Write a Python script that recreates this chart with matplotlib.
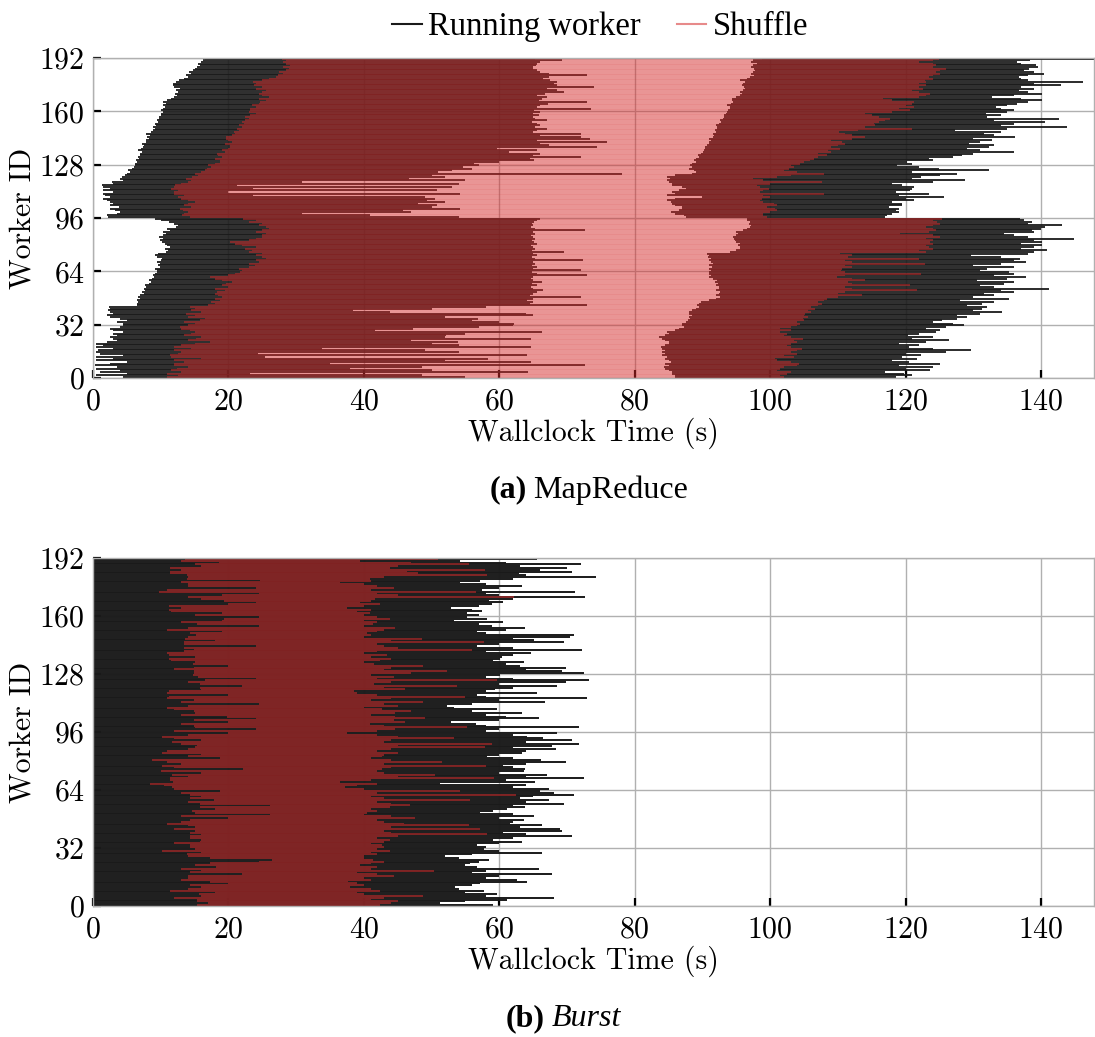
import numpy as np
import matplotlib
matplotlib.use('Agg')
import matplotlib.pyplot as plt
from matplotlib.lines import Line2D

plt.rcParams['font.family'] = 'cmr10'
plt.rcParams['axes.formatter.use_mathtext'] = True
plt.rcParams['mathtext.fontset'] = 'cm'

X_TICKS = [0, 20, 40, 60, 80, 100, 120, 140]
Y_TICKS = [0, 32, 64, 96, 128, 160, 192]

RUN_COLOR = '#1a1a1a'
SHUFFLE_COLOR = '#d42a2a'
SHUFFLE_ALPHA = 0.55

# ---- MapReduce: per worker (id 0..191), seconds ----
mr_map_start = [
    4.5, 0.5, 5, 1, 4, 0.5, 3.5, 0.3, 2.5, 5, 0.5, 3, 0.5, 4.5, 1, 0.5,
    0.7, 3, 0.5, 1.5, 0.5, 2, 3.5, 3, 2.5, 3.5, 3, 4.5, 3, 2.5, 4, 4.5,
    4.5, 3.5, 5, 4, 2.5, 2, 3, 2.5, 2.2, 2.5, 2.3, 6.5, 6.5, 6.7, 6.5, 7,
    6.7, 7, 7.5, 7.2, 7.7, 7.5, 7.9, 7.7, 8.2, 8.5, 8.2, 8.7, 9, 8.8, 9.2, 9.4,
    9.4, 9.2, 9.9, 9.6, 9.9, 9.5, 10, 10.2, 9.4, 9.1, 9.6, 10.8, 11.1, 10.7, 11.3, 11,
    10.6, 10.2, 9.9, 10.3, 9.7, 10.4, 10.8, 10.4, 11.4, 11, 12.2, 12.6, 12, 11.2, 10, 9.2,
    2.2, 2.0, 3.5, 4, 3.3, 2.5, 3.8, 2.5, 3, 2.5, 2, 1.5, 2.5, 1.8, 1.5, 3,
    1.5, 2.5, 1.5, 1.4, 3, 2.8, 4.5, 4, 4.3, 4.8, 5, 5.5, 5.2, 5.8, 6, 6.2,
    6.2, 6.5, 6.3, 6.8, 6.6, 7, 6.9, 7.2, 6.7, 7.1, 7.4, 7.6, 7.3, 7.8, 7.9, 8.2,
    8, 8.4, 7.9, 8.6, 8.8, 9.1, 8.9, 9.3, 9.2, 9.6, 9.5, 9.8, 9.7, 10, 10.1, 10.3,
    10.1, 10.4, 10.6, 10.3, 10.8, 10.3, 11, 11.5, 12, 12.4, 12.1, 12.6, 12.2, 12.9, 12, 11.8,
    11.8, 12.3, 12.7, 13.5, 14, 13.8, 14.5, 14.2, 14.8, 15.1, 15.3, 15.8, 15.5, 16, 16.3, 16.5,
]
mr_map_end = [
    55, 48.6, 23.2, 64.3, 50, 37.9, 48.6, 72.6, 35.0, 64.7, 52, 58.3, 25.4, 64.1, 24.4, 54.1,
    49, 33.8, 64.6, 54.1, 50, 53.9, 47, 64.6, 52, 52.1, 55, 66.3, 41.7, 47.3, 57, 62,
    62.1, 60, 56, 56.8, 52, 65, 64, 43.9, 38.4, 50, 58, 72.9, 64.5, 65, 64.1, 65,
    72.1, 64.5, 65, 65.5, 66.5, 65, 64.6, 65.5, 64.8, 66.3, 65, 64.6, 65, 72.9, 65.5, 64.8,
    72.1, 65, 65.5, 64.8, 65.3, 65, 72.4, 65.2, 64.8, 65.5, 65, 69.6, 64.8, 65.3, 65, 64.7,
    65.5, 65.1, 64.8, 65.2, 65, 64.7, 65.3, 65, 72.6, 65.2, 64.6, 65, 64.8, 65.1, 65.5, 66,
    54, 40.9, 30.9, 47, 45.8, 54.2, 50, 50.8, 48, 52, 49.3, 50.5, 49, 23.6, 54.2, 20,
    50.8, 23.7, 53, 21.2, 54, 30.9, 55, 46.6, 52, 50, 78.1, 51, 53, 56, 54.7, 57,
    56.2, 60, 65.1, 64.5, 72, 65, 66, 61.4, 65.5, 59.6, 74.4, 67.3, 66, 75.9, 65.5, 73.4,
    72, 66, 72, 65, 65.5, 67, 65.2, 66, 65.5, 64.8, 67, 65.2, 65, 65.8, 64.9, 66,
    65.1, 73.5, 65.5, 66, 67.2, 73, 65.8, 66.3, 67, 65.5, 66.8, 69.5, 68.5, 67, 74, 68.5,
    68, 68.5, 67.5, 66.5, 67.3, 73, 67.3, 66, 65.5, 65, 64.9, 65.4, 65.5, 66, 69.2, 65.2,
]
mr_reduce_start = [
    86, 86, 85.5, 85.5, 85, 84.5, 84.3, 85, 84.5, 85.3, 85, 84.5, 84.8, 84, 84.5, 84,
    84.5, 84, 83.8, 84.5, 85, 85, 84.5, 84, 83.5, 84.5, 85, 84.8, 86, 86.5, 87.2, 87,
    87, 87.5, 87.8, 88.2, 88, 88.5, 88, 88, 88.5, 89, 89.5, 89.2, 89.5, 89.7, 91, 92,
    92.6, 92, 92.4, 92.6, 92, 92.4, 92.4, 92, 92.3, 91.8, 92.2, 91.5, 91, 91.3, 90.9, 91,
    91.2, 91, 91.4, 91, 91.5, 91.2, 91, 91.2, 90.8, 91, 90.7, 94, 95, 95.6, 95.5, 95.2,
    95.5, 95, 94.8, 94.6, 94.5, 95, 95.2, 94.9, 96, 96.5, 97, 97.1, 96.8, 97, 96.5, 96.6,
    87.5, 87.2, 86, 85.3, 86.5, 87, 87, 86, 85.5, 85.3, 84.8, 86, 89.9, 84.8, 86, 85.5,
    86.5, 87.5, 87, 85.5, 85.5, 85, 84.7, 85.2, 84.8, 86, 88.5, 89, 88.7, 88, 88.5, 88.2,
    88.5, 89, 88.7, 89, 89.5, 89.4, 89.8, 90, 90.2, 90.4, 90.3, 90.6, 91, 90.9, 91.2, 91,
    91.5, 91.7, 91.5, 92, 91.8, 92.2, 92.2, 92, 92.5, 92.8, 92.6, 93, 93.2, 93.1, 93.4, 93.6,
    93.8, 94, 94.1, 93.6, 94.2, 94.5, 94.3, 94.4, 95, 95.5, 95.9, 95.5, 96, 96.2, 96.1, 95.8,
    96, 96.2, 95.6, 96.5, 97, 97.6, 97.2, 97.5, 97.8, 97.6, 97.2, 97.5, 98, 97.1, 97.5, 98.8,
]
mr_reduce_end = [
    118.5, 121, 119.7, 117, 123.6, 120, 124.1, 119, 125.1, 120.5, 118, 121.7, 119.5, 122.2, 120, 126,
    129.6, 124, 120.5, 122, 119, 123, 126.4, 121, 124, 120.4, 122, 124.5, 125.1, 123, 126, 128.6,
    127, 124, 125.4, 127.5, 129, 127.6, 131, 134.2, 130, 131.3, 132, 129, 131.3, 133, 128, 135.2,
    130, 133, 131.5, 136, 134, 141.1, 133, 131, 134.5, 136, 130.5, 135, 137.7, 133, 136, 135.2,
    131, 132, 136, 130, 134, 137.7, 136, 136.9, 134, 129.6, 138, 139, 140.9, 137, 139, 140.1,
    137, 140.1, 139, 144.8, 138, 136, 134.5, 139, 138.7, 139.9, 140.5, 143.1, 138, 138.7, 137.5, 136.9,
    117, 117.2, 118, 119, 118.5, 119, 117.5, 119.5, 119.5, 118, 121.2, 120, 125.6, 119, 123.4, 118.5,
    120.7, 121, 121.2, 119.5, 118, 124, 128.8, 121, 122.2, 125, 127.6, 121, 132.3, 124.9, 122, 118.7,
    121, 120.2, 124, 123.4, 127, 128.3, 130, 136, 131, 129, 132.3, 133, 129.3, 131, 132.8, 130,
    136.2, 133, 131.5, 134, 127.3, 135, 143.8, 134, 136, 140.6, 133, 142.6, 132, 134, 131.8, 135,
    136, 134, 133.3, 135, 136.5, 138, 140.1, 137, 132.8, 136, 140.1, 138, 136.7, 139, 137, 142.9,
    139, 146.1, 138, 137, 136.7, 138, 140.4, 139, 137.5, 138.2, 139.5, 139.2, 137, 136.5, 138.4, 148,
]
mr_shuffle_start = [
    11, 12.5, 11, 13, 11.5, 12.4, 14, 12, 11.9, 13.5, 12, 16, 11.5, 11.3, 12.5, 13,
    12, 14.5, 11.9, 13, 15, 17.3, 14, 15.2, 16, 13.5, 14.5, 15, 14.3, 13, 12.8, 14,
    15, 13.5, 15.8, 16.5, 14, 15, 13.8, 16, 14.5, 15, 14.3, 17, 18, 17.5, 18.8, 18,
    19, 18.5, 18, 18.3, 19.5, 18, 20, 19, 19.7, 20.5, 19, 18, 17.3, 20, 21, 21.7,
    22, 21.5, 23, 23.9, 23, 24.5, 24, 25.6, 25, 24, 25, 23, 23.5, 22.5, 24, 22,
    21, 20.2, 23, 24, 25, 24.9, 25.5, 24, 25, 26, 25.6, 24.5, 25, 23, 24, 22.2,
    14.3, 13.1, 13.5, 14, 13.3, 12.8, 14.5, 13.5, 14, 15, 14, 13, 12.5, 13.5, 12, 11.9,
    12.5, 11.5, 12, 12.1, 13, 14, 14.5, 13.8, 14.6, 15.5, 15, 16, 16.5, 16.8, 17.5, 17,
    18, 18.8, 18.8, 18, 19, 18.5, 18.3, 19.5, 19, 20, 20.2, 20.2, 19.5, 20.5, 20, 19.7,
    19.7, 20.5, 21, 20.8, 21.5, 21.2, 22, 21.5, 22.3, 22, 22.5, 23, 22.5, 23.2, 24, 23,
    23.2, 23.2, 24, 23.5, 24.5, 24.7, 25.5, 24.5, 26, 25, 24.5, 24.9, 25.5, 24, 25, 23.8,
    24, 23.7, 25, 26, 27, 27.3, 28, 27.5, 28.5, 29, 28, 29.1, 28.5, 28, 28.5, 27.9,
]
mr_shuffle_end = [
    102, 101.5, 102.5, 103, 101, 101.5, 102, 104, 104.2, 103, 101, 100.7, 103.5, 102, 104, 103,
    104, 104.7, 103, 102.5, 103, 104, 103.5, 104.9, 103, 102, 102.5, 101.5, 103, 101.5, 103, 104,
    104.4, 104, 105, 104.9, 105.5, 105, 105.2, 106, 105.5, 106.6, 106, 107, 107.6, 107, 108, 108.4,
    110, 113.5, 110, 111, 121.7, 112, 111, 120.7, 112, 111.5, 114, 112, 109.9, 111, 122.2, 111,
    110.5, 110.6, 112, 111, 122.9, 112, 111, 121.9, 111.5, 112, 110.3, 123, 122, 124.1, 123.5, 123,
    124, 123.6, 124, 123, 125.1, 124, 119.2, 123.5, 124.5, 124.1, 123, 124, 125, 124.6, 124, 125.4,
    99.5, 99, 99, 100, 101, 100.7, 99.5, 101, 100.5, 99, 98.5, 98.8, 100, 99, 108, 98.5,
    99, 99.8, 98.5, 98, 100, 107.6, 99, 97.5, 101, 103, 108, 104, 102, 102.7, 103.5, 103,
    104.4, 105, 105.9, 106.5, 107, 108.4, 107, 109, 108.5, 110.3, 109, 110, 111, 110.6, 109, 112,
    114, 112, 111, 110.1, 113, 120.9, 114, 115.5, 115.3, 116, 117, 117.7, 116, 115, 114, 118,
    120.7, 119, 121.2, 120, 121, 121.2, 118, 116.7, 122, 123, 123.6, 122, 121, 122.5, 121.9, 123,
    122, 123, 122.9, 124, 123.5, 124.1, 125, 124.5, 125, 125.9, 124, 124.5, 124.1, 121.9, 124, 124.9,
]

# ---- Burst: every worker starts at t=0 ----
burst_run_end = [
    59, 51.3, 55, 61.1, 68, 58, 59.7, 55, 57.7, 54, 53.5, 56, 57.2, 64.1, 62.6, 58,
    60, 67.8, 56, 58, 65.8, 56.7, 55, 55.7, 57, 58.4, 54, 52, 56, 66.3, 60, 57.7,
    58, 56.7, 60, 63.3, 59, 62, 70.7, 64, 60.6, 69.3, 69, 63, 66.3, 61.6, 62, 63.6,
    60, 65.1, 62, 57.2, 59, 61.1, 63.8, 62, 69.5, 64, 67.3, 63, 65, 71, 68, 66,
    67.3, 62, 64, 51.3, 65.3, 61, 72.5, 64, 67, 60, 63.6, 63.8, 62, 60.6, 64, 69.8,
    66.1, 62, 58.2, 60, 63.3, 64, 68.3, 62, 67.8, 71.7, 64, 70.7, 66.5, 64.1, 62, 68.5,
    58, 60, 71.7, 58, 56.5, 52.8, 60, 65.8, 61, 58, 63.3, 56, 59.7, 53.3, 52.3, 56,
    66.8, 60, 73, 58, 56.7, 65.6, 58, 59.4, 62, 68.5, 60, 69.8, 73.2, 62, 58, 60.1,
    72.5, 69.3, 64, 69.8, 63.1, 61, 63.6, 59, 60.1, 60.4, 62, 64.6, 58, 72.2, 62, 56.7,
    60, 69.5, 65.1, 62, 70.5, 71, 58, 56.7, 61, 63.8, 58.9, 57, 60.6, 53.3, 58.2, 55.2,
    57, 55.2, 57.4, 56, 52.8, 57, 58.9, 60.6, 58.4, 62, 72.7, 60, 58, 71.2, 57.4, 60,
    63.3, 58, 54.2, 57.2, 62, 74.2, 64, 62.9, 70.7, 66, 70, 63, 72, 61, 54.2, 65.6,
]
burst_shuffle_start = [
    15.3, 17, 15.3, 15.3, 12, 16, 15.6, 18, 11.4, 14, 16, 14.4, 20, 17.3, 13, 14.1,
    14.1, 22, 14.4, 16, 13, 18.1, 15, 17.3, 24.5, 26.4, 17.3, 14, 13.9, 16, 10.2, 15,
    14.4, 14.4, 12, 15.8, 16, 14.4, 14.4, 16, 14.4, 15, 12, 15.1, 14, 10.9, 13, 14.4,
    20, 13, 26.2, 15, 14.6, 18, 15.8, 26.2, 15.8, 14, 17.8, 14.4, 16, 14.4, 13, 18.8,
    12, 11.6, 10.5, 8.4, 11.8, 11.4, 11.4, 14, 11.6, 16, 10, 22.2, 12, 10.2, 13, 11,
    8.7, 18.8, 14, 16, 10.2, 11, 14, 15, 15.3, 13, 11.6, 16, 12, 10.2, 14, 20,
    12, 24, 15, 14.9, 13, 20, 14.9, 24, 19.8, 13, 15, 14.9, 12, 10.9, 14, 24.5,
    13, 14.9, 11, 11.2, 20, 11, 11.2, 16, 15.8, 22, 15.8, 14, 16.5, 24, 15.5, 14.8,
    14.9, 14.9, 12, 14.9, 20, 14.8, 15.1, 11.5, 11.2, 15, 11.2, 10.9, 13.5, 14.9, 13.4, 24,
    13.4, 13.4, 18, 13.6, 14, 15.2, 14.4, 19, 10.9, 14, 24.5, 15.3, 13, 19, 19.3, 24.5,
    15, 19, 11.5, 11.2, 13, 11.2, 20, 24, 19.3, 16, 14, 19, 24.5, 9.7, 11, 24,
    14.1, 14.1, 13, 24.7, 13.9, 14, 13.9, 11.4, 11.4, 13, 11.4, 16, 15.1, 18.6, 13, 13.6,
]
burst_shuffle_end = [
    42.4, 44, 45.1, 41, 43, 48.8, 40, 39, 42.4, 41, 38, 40, 39, 37.7, 41, 40,
    44.4, 42, 39, 50.3, 41, 42, 39.5, 41, 43, 41.4, 40, 40, 42, 41, 43.9, 42,
    43, 42.7, 41, 43, 43.9, 42, 45, 58.2, 44, 43, 57.2, 44, 55.5, 45.9, 43, 42,
    47.6, 44, 40, 40.4, 42, 41, 43.9, 46.8, 44, 42, 55.7, 43, 41, 62.4, 42, 54.2,
    40, 37.2, 39, 42, 36.5, 41, 59.2, 45, 50.5, 43, 42, 42.7, 44, 58, 43, 51.5,
    44, 41, 42.7, 43, 45.1, 42, 44, 57.9, 45, 58.9, 43, 44, 53.3, 45, 42, 37.5,
    42, 44.6, 55.2, 43, 40.9, 46, 44.4, 49, 44.6, 41, 44.6, 47, 42.7, 40, 45, 43,
    48.8, 41, 44, 55, 42, 39, 38.5, 46, 43, 53.7, 41.5, 44, 59.7, 42, 44.4, 41,
    47, 52.3, 43, 44, 48.8, 41.5, 40, 42.4, 44, 41, 43.4, 40, 42, 56, 45, 43,
    42, 57.7, 44, 48.6, 40, 41, 40.4, 42, 43, 44.6, 40, 41.4, 42, 40, 43.9, 42,
    40, 40.9, 39, 41, 37.5, 40, 42.4, 39.5, 41, 41.7, 62.1, 45, 42, 56.5, 41, 44.4,
    42, 40, 36.5, 41, 40.9, 43, 58.2, 48, 46.4, 57.9, 43.9, 45, 55.5, 47, 39.5, 51,
]


def fade(alpha):
    # apply transparency to the whole layer at once, so neighbouring rows
    # don't darken each other where their edges overlap
    def _filter(img, dpi):
        out = img.copy()
        out[..., 3] *= alpha
        return out, 0, 0
    return _filter


def draw_workers(ax, runs, shuffle, lw):
    ids = np.arange(len(shuffle[0])) + 0.5
    # running periods first, shuffle on top (transparent) so overlaps turn dark red
    for start, end in runs:
        ax.hlines(ids, start, end, colors=RUN_COLOR, linewidth=lw)
    sh = ax.hlines(ids, shuffle[0], shuffle[1], colors=SHUFFLE_COLOR, linewidth=lw)
    sh.set_agg_filter(fade(SHUFFLE_ALPHA))


def style_axes(ax):
    ax.set_xlim(0, 147.8)
    ax.set_ylim(0, 192)
    ax.set_xticks(X_TICKS)
    ax.set_yticks(Y_TICKS)
    ax.set_axisbelow(True)
    ax.grid(True, color='#b0b0b0', linewidth=1.0)
    for sp in ax.spines.values():
        sp.set_color('#b0b0b0')
        sp.set_linewidth(1.0)
    ax.tick_params(direction='in', length=6, width=1.6, color='black', labelsize=21.5)
    ax.tick_params(axis='x', pad=7)
    ax.tick_params(axis='y', pad=6)
    ax.set_xlabel('Wallclock Time (s)', fontsize=21.5, labelpad=2)
    ax.set_ylabel('Worker ID', fontsize=21.5, labelpad=2)


fig = plt.figure(figsize=(10.95, 10.37), dpi=100)

# row pitch is ~1.67 px on top, ~1.81 px below: line width a bit over the pitch
ax1 = fig.add_axes([0.0849, 0.6355, 0.9142, 0.3086])
draw_workers(ax1,
             [(mr_map_start, mr_map_end), (mr_reduce_start, mr_reduce_end)],
             (mr_shuffle_start, mr_shuffle_end), lw=1.3)
style_axes(ax1)

ax2 = fig.add_axes([0.0849, 0.1263, 0.9142, 0.3356])
draw_workers(ax2,
             [(np.zeros(len(burst_run_end)), burst_run_end)],
             (burst_shuffle_start, burst_shuffle_end), lw=1.4)
style_axes(ax2)

handles = [Line2D([], [], color=RUN_COLOR, lw=1.5),
           Line2D([], [], color=SHUFFLE_COLOR, alpha=SHUFFLE_ALPHA, lw=1.5)]
fig.legend(handles, ['Running worker', 'Shuffle'], loc='center',
           bbox_to_anchor=(0.548, 1 - 27 / 1037), ncol=2, frameon=False,
           handlelength=0.9, handletextpad=0.2, columnspacing=1.1,
           prop={'family': 'Liberation Serif', 'size': 23.5})

cap = {'family': 'Liberation Serif', 'size': 23}
fig.text(0.4813, 0.5275, '(a)', ha='right', va='center', fontweight='bold', **cap)
fig.text(0.4868, 0.5275, 'MapReduce', ha='left', va='center', **cap)
fig.text(0.4977, 0.018, '(b)', ha='right', va='center', fontweight='bold', **cap)
fig.text(0.5040, 0.018, 'Burst', ha='left', va='center', style='italic', **cap)

fig.savefig('out.png', dpi=100)
